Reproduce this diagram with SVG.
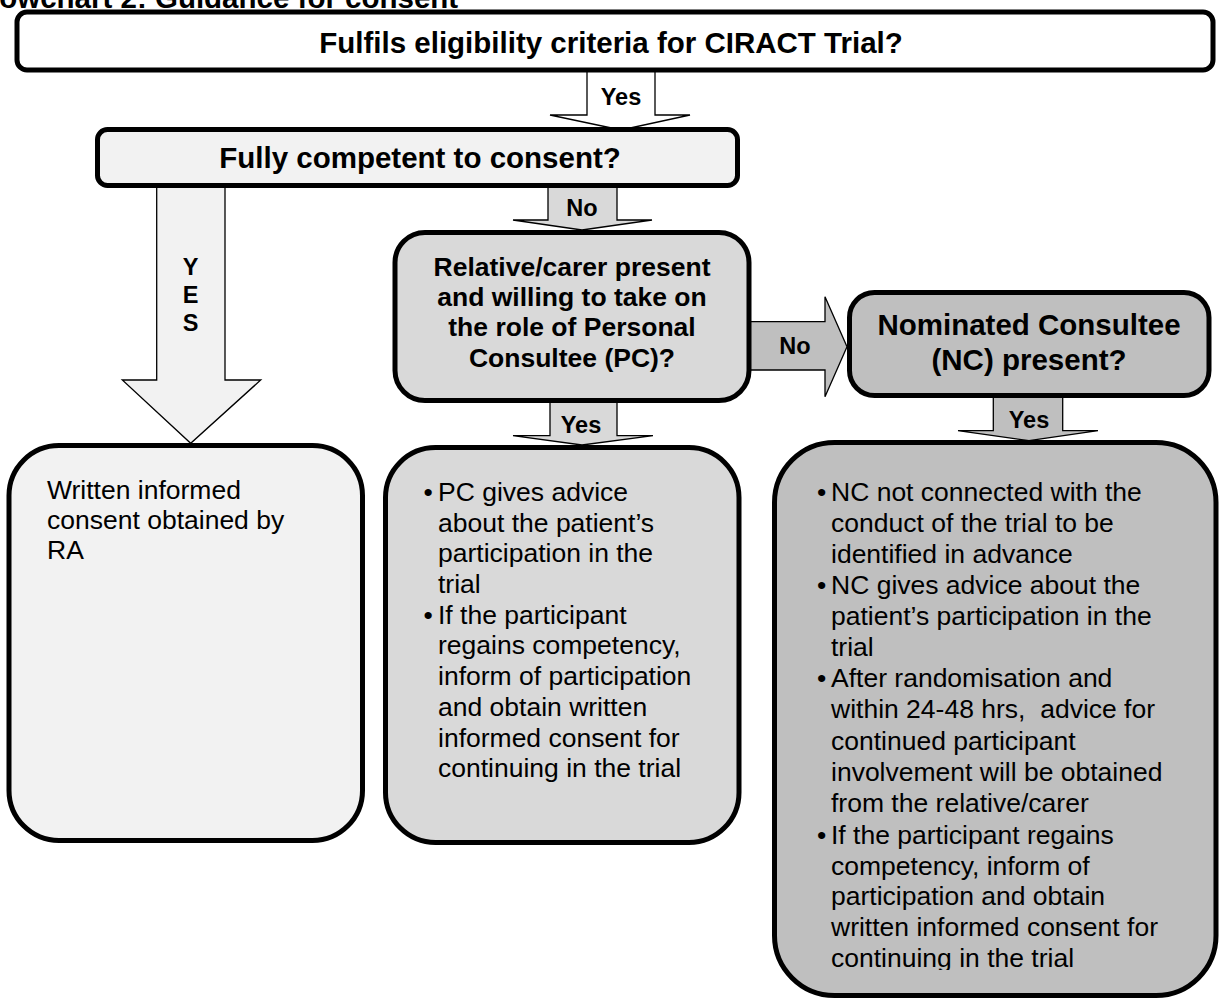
<svg xmlns="http://www.w3.org/2000/svg" width="1221" height="1001" viewBox="0 0 1221 1001">
<style>
  .box{stroke:#000;stroke-width:5}
  .arr{stroke:#000;stroke-width:1.3;stroke-linejoin:miter}
  .hd{font-family:"Liberation Sans",Arial,sans-serif;font-weight:bold;font-size:29.5px;text-anchor:middle;fill:#000}
  .hd2{font-family:"Liberation Sans",Arial,sans-serif;font-weight:bold;font-size:26.5px;text-anchor:middle;fill:#000}
  .lbl{font-family:"Liberation Sans",Arial,sans-serif;font-weight:bold;font-size:23.5px;text-anchor:middle;fill:#000}
  .body{font-family:"Liberation Sans",Arial,sans-serif;font-size:26.5px;fill:#000}
  .l1{fill:#f2f2f2}
  .l2{fill:#d9d9d9}
  .l3{fill:#bfbfbf}
</style>
<defs>
  <clipPath id="ncclip"><rect x="770" y="440" width="451" height="530"/></clipPath>
</defs>
<rect x="0" y="0" width="1221" height="1001" fill="#fff"/>
<text x="-27" y="8" font-family="'Liberation Sans',Arial,sans-serif" font-weight="bold" font-size="29.5px">Flowchart 2: Guidance for consent</text>

<g id="connectors">
  <g id="c-yes-top">
    <path class="arr" fill="#fff" d="M587,70 V115 H550 L621,130 L690,115 H655 V70 Z"/>
    <text class="lbl" x="621" y="105">Yes</text>
  </g>
  <g id="c-yes-left">
    <path class="arr l1" d="M156.7,186 V380 H122.3 L190.7,443.3 L260.7,380 H225 V186 Z"/>
    <text class="lbl" x="190.7" y="275">Y</text>
    <text class="lbl" x="190.7" y="303">E</text>
    <text class="lbl" x="190.7" y="331">S</text>
  </g>
  <g id="c-no-mid">
    <path class="arr l2" d="M548,186 V220 H513 L582,230 L652,220 H617 V186 Z"/>
    <text class="lbl" x="582" y="216">No</text>
  </g>
  <g id="c-yes-pc">
    <path class="arr l2" d="M550,400 V435.7 H513 L582,445 L653,435.7 H617 V400 Z"/>
    <text class="lbl" x="581" y="433">Yes</text>
  </g>
  <g id="c-no-right">
    <path class="arr l3" d="M749,321.7 H825 V296.7 L847,346.7 L825,396.7 V370 H749 Z"/>
    <text class="lbl" x="795" y="354">No</text>
  </g>
  <g id="c-yes-nc">
    <path class="arr l3" d="M993.3,395 V430.7 H958 L1029,440.7 L1098,430.7 H1062.7 V395 Z"/>
    <text class="lbl" x="1029" y="428">Yes</text>
  </g>
</g>

<g id="n-eligibility">
  <rect class="box" fill="#fff" x="17" y="12" width="1196" height="58" rx="10"/>
  <text class="hd" x="611" y="53">Fulfils eligibility criteria for CIRACT Trial?</text>
</g>

<g id="n-competent">
  <rect class="box l1" x="97.5" y="129.5" width="640" height="56" rx="10"/>
  <text class="hd" x="420" y="168">Fully competent to consent?</text>
</g>

<g id="n-relative">
  <rect class="box l2" x="395" y="232.5" width="354" height="168" rx="30"/>
  <text class="hd2" x="572" y="276">Relative/carer present</text>
  <text class="hd2" x="572" y="306">and willing to take on</text>
  <text class="hd2" x="572" y="336">the role of Personal</text>
  <text class="hd2" x="572" y="367">Consultee (PC)?</text>
</g>

<g id="n-nominated">
  <rect class="box l3" x="849.5" y="292.5" width="359.5" height="103" rx="25"/>
  <text class="hd" x="1029" y="335">Nominated Consultee</text>
  <text class="hd" x="1029" y="370">(NC) present?</text>
</g>

<g id="n-written">
  <rect class="box l1" x="9" y="445.5" width="353.5" height="395" rx="50"/>
  <text class="body" x="47" y="499">Written informed</text>
  <text class="body" x="47" y="529">consent obtained by</text>
  <text class="body" x="47" y="559">RA</text>
</g>

<g id="n-pc">
  <rect class="box l2" x="385.5" y="447.5" width="353.5" height="395" rx="50"/>
  <text class="body" x="423.5" y="501">•</text>
  <text class="body" x="438" y="501">PC gives advice</text>
  <text class="body" x="438" y="532">about the patient’s</text>
  <text class="body" x="438" y="562">participation in the</text>
  <text class="body" x="438" y="593">trial</text>
  <text class="body" x="423.5" y="624">•</text>
  <text class="body" x="438" y="624">If the participant</text>
  <text class="body" x="438" y="654">regains competency,</text>
  <text class="body" x="438" y="685">inform of participation</text>
  <text class="body" x="438" y="716">and obtain written</text>
  <text class="body" x="438" y="747">informed consent for</text>
  <text class="body" x="438" y="777">continuing in the trial</text>
</g>

<g id="n-nc">
  <rect class="box l3" x="774.5" y="442.5" width="441.5" height="553" rx="60"/>
  <g clip-path="url(#ncclip)">
    <text class="body" x="817" y="501">•</text>
    <text class="body" x="831" y="501">NC not connected with the</text>
    <text class="body" x="831" y="532">conduct of the trial to be</text>
    <text class="body" x="831" y="563">identified in advance</text>
    <text class="body" x="817" y="594">•</text>
    <text class="body" x="831" y="594">NC gives advice about the</text>
    <text class="body" x="831" y="625">patient’s participation in the</text>
    <text class="body" x="831" y="656">trial</text>
    <text class="body" x="817" y="687">•</text>
    <text class="body" x="831" y="687">After randomisation and</text>
    <text class="body" x="831" y="718">within 24-48 hrs,&#160; advice for</text>
    <text class="body" x="831" y="750">continued participant</text>
    <text class="body" x="831" y="781">involvement will be obtained</text>
    <text class="body" x="831" y="812">from the relative/carer</text>
    <text class="body" x="817" y="844">•</text>
    <text class="body" x="831" y="844">If the participant regains</text>
    <text class="body" x="831" y="875">competency, inform of</text>
    <text class="body" x="831" y="905">participation and obtain</text>
    <text class="body" x="831" y="936">written informed consent for</text>
    <text class="body" x="831" y="967">continuing in the trial</text>
  </g>
</g>
</svg>
